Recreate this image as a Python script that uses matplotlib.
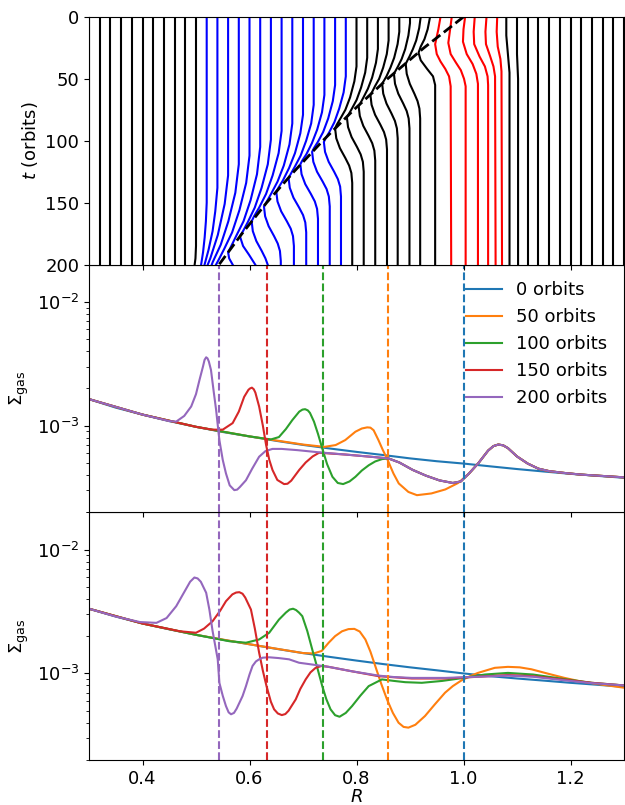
"""
Fluid-element tracks and gas surface density for an inward-moving pressure bump.
"""

import matplotlib
matplotlib.use('Agg')
import matplotlib.pyplot as plt

# ─────────────────────────────────────────────
# Data
# ─────────────────────────────────────────────

# bump position (dashed line) against time
bump_t = [0, 25, 50, 75, 100, 125, 150, 175, 200]
bump_R = [1.0, 0.926, 0.858, 0.795, 0.737, 0.683, 0.632, 0.586, 0.543]

snap_labels = ['0 orbits', '50 orbits', '100 orbits', '150 orbits', '200 orbits']
snap_R = [1.0, 0.858, 0.737, 0.632, 0.543]

# untouched fluid elements (straight lines)
straight_R = [0.30, 0.32, 0.34, 0.36, 0.38, 0.40, 0.42, 0.44, 0.46, 0.48,
              1.12, 1.14, 1.16, 1.18, 1.20, 1.22, 1.24, 1.26, 1.28, 1.30]

# displaced fluid elements: lists of (t, R)
black_paths = [
    [(0, .50), (185, .50), (195, .499), (200, .4975)],
    [(0, .80), (40, .80), (52, .796), (65, .788), (75, .7792), (82, .770), (87, .7632), (90, .760),
     (98, .7622), (106, .769), (114, .7792), (120, .7862), (126, .7904), (134, .792), (200, .792)],
    [(0, .82), (33, .82), (45, .8162), (57, .8086), (67, .8002), (74, .7915), (79, .785), (81, .782),
     (89, .7842), (97, .7908), (105, .8009), (111, .8078), (117, .8119), (125, .8135), (200, .8135)],
    [(0, .84), (26, .84), (37, .8364), (49, .8292), (58, .8213), (65, .813), (70, .8069), (72, .804),
     (80, .8062), (88, .8127), (96, .8226), (102, .8294), (108, .8334), (116, .835), (200, .835)],
    [(0, .86), (19, .86), (30, .8566), (41, .8498), (50, .8423), (56, .8345), (61, .8287), (63, .826),
     (71, .8282), (79, .8347), (87, .8446), (93, .8514), (99, .8554), (107, .857), (200, .857)],
    [(0, .88), (12, .88), (22, .8768), (33, .8704), (41, .8634), (48, .856), (52, .8506), (54, .848),
     (62, .850), (70, .8561), (78, .8654), (84, .8718), (90, .8755), (98, .877), (200, .877)],
    [(0, .90), (5, .90), (15, .897), (26, .891), (34, .8844), (40, .8775), (44, .8724), (46, .870),
     (54, .872), (62, .8781), (70, .8874), (76, .8938), (82, .8975), (90, .899), (200, .899)],
    [(0, .92), (9, .9172), (19, .9116), (26, .9054), (32, .899), (36, .8942), (38, .892),
     (46, .8939), (54, .8996), (62, .9082), (68, .9141), (74, .9176), (82, .919), (200, .919)],
    [(0, .9375), (10, .933), (18, .927), (24, .920), (29, .916), (35, .920), (42, .932),
     (48, .943), (55, .947), (200, .947)],
    [(0, 1.08), (15, 1.08), (30, 1.083), (45, 1.086), (200, 1.086)],
    [(0, 1.10), (30, 1.10), (50, 1.102), (200, 1.102)],
]

blue_paths = [
    [(0, .52), (150, .52), (165, .5185), (178, .5162), (190, .5132), (200, .5096)],
    [(0, .54), (138, .54), (157, .536), (173, .531), (188, .5235), (200, .516)],
    [(0, .56), (128, .56), (151, .5536), (176, .5408), (195, .5267), (200, .522)],
    [(0, .58), (119, .58), (142, .5735), (165, .5605), (184, .5462), (198, .5312), (200, .5295)],
    [(0, .60), (112, .60), (134, .5938), (156, .5812), (174, .5675), (187, .5531), (196, .5425),
     (200, .5375)],
    [(0, .62), (105, .62), (127, .614), (148, .602), (165, .5888), (177, .575), (186, .5648),
     (190, .560), (195, .562), (200, .5685)],
    [(0, .64), (99, .64), (119, .6342), (138, .6226), (154, .6098), (166, .5965), (174, .5866),
     (177, .582), (185, .588), (192, .599), (200, .6107)],
    [(0, .66), (92, .66), (110, .6544), (128, .6432), (143, .6309), (154, .618), (161, .6085),
     (165, .604), (173, .6062), (181, .6128), (189, .6229), (195, .6298), (200, .634)],
    [(0, .68), (86, .68), (103, .6747), (120, .6641), (133, .6524), (143, .6402), (150, .6312),
     (153, .627), (161, .6292), (169, .6358), (177, .6459), (183, .6528), (189, .6569),
     (197, .6585), (200, .6585)],
    [(0, .70), (79, .70), (94, .695), (110, .685), (122, .674), (132, .6625), (138, .654),
     (141, .650), (149, .6523), (157, .6592), (165, .6698), (171, .6771), (177, .6813),
     (185, .683), (200, .683)],
    [(0, .72), (71, .72), (86, .7153), (100, .7059), (112, .6956), (121, .6847), (127, .6768),
     (130, .673), (138, .6753), (146, .6822), (154, .6928), (160, .7001), (166, .7043),
     (174, .706), (200, .706)],
    [(0, .74), (63, .74), (77, .7355), (91, .7265), (102, .7166), (111, .7062), (116, .6986),
     (119, .695), (127, .6973), (135, .7042), (143, .7148), (149, .7221), (155, .7263),
     (163, .728), (200, .728)],
    [(0, .76), (55, .76), (68, .7557), (82, .7471), (93, .7376), (101, .7277), (106, .7204),
     (109, .717), (117, .7193), (125, .7262), (133, .7368), (139, .7441), (145, .7483),
     (153, .750), (200, .750)],
    [(0, .78), (48, .78), (61, .7759), (74, .7677), (85, .7587), (93, .7492), (98, .7423),
     (101, .739), (109, .7412), (117, .748), (125, .7582), (131, .7652), (137, .7694),
     (145, .771), (200, .771)],
]

red_paths = [
    [(0, .957), (10, .953), (22, .947), (30, .950), (36, .957), (42, .966), (48, .973),
     (56, .976), (200, .977)],
    [(0, .978), (10, .975), (21, .9716), (30, .976), (37, .986), (43, .995), (50, 1.001),
     (56, 1.004), (200, 1.004)],
    [(0, 1.003), (10, 1.0), (20, .999), (30, 1.006), (38, 1.017), (46, 1.024), (54, 1.027),
     (200, 1.027)],
    [(0, 1.021), (12, 1.019), (22, 1.020), (32, 1.030), (40, 1.040), (48, 1.045), (55, 1.046),
     (200, 1.046)],
    [(0, 1.043), (12, 1.041), (22, 1.042), (32, 1.050), (40, 1.056), (48, 1.059), (200, 1.060)],
    [(0, 1.063), (12, 1.062), (24, 1.064), (34, 1.069), (44, 1.071), (200, 1.072)],
]

# Sigma_gas, middle panel
mid_R = [
    [0.30, 0.35, 0.40, 0.45, 0.50, 0.55, 0.60, 0.65, 0.70, 0.75, 0.80, 0.85, 0.90, 0.95,
     1.00, 1.05, 1.10, 1.15, 1.20, 1.25, 1.30],
    [0.30, 0.40, 0.50, 0.60, 0.70, 0.74, 0.761, 0.779, 0.798, 0.81, 0.82, 0.826, 0.832, 0.841,
     0.849, 0.857, 0.869, 0.879, 0.897, 0.913, 0.94, 0.966, 0.99, 1.01, 1.028, 1.046, 1.056,
     1.065, 1.074, 1.083, 1.10, 1.12, 1.14, 1.16, 1.19, 1.22, 1.26, 1.30],
    [0.30, 0.40, 0.50, 0.60, 0.64, 0.655, 0.668, 0.68, 0.693, 0.699, 0.704, 0.709, 0.713,
     0.7205, 0.728, 0.736, 0.745, 0.755, 0.765, 0.775, 0.787, 0.798, 0.81, 0.823, 0.835, 0.848,
     0.86, 0.88, 0.905, 0.93, 0.955, 0.98, 0.995, 1.01, 1.028, 1.046, 1.056, 1.065, 1.074,
     1.083, 1.10, 1.12, 1.14, 1.16, 1.19, 1.22, 1.26, 1.30],
    [0.30, 0.40, 0.50, 0.53, 0.55, 0.5685, 0.58, 0.59, 0.598, 0.601, 0.6045, 0.608, 0.611,
     0.618, 0.625, 0.631, 0.637, 0.643, 0.652, 0.6646, 0.671, 0.678, 0.693, 0.705, 0.718, 0.73,
     0.78, 0.83, 0.86, 0.88, 0.905, 0.93, 0.955, 0.98, 0.995, 1.01, 1.028, 1.046, 1.056, 1.065,
     1.074, 1.083, 1.10, 1.12, 1.14, 1.16, 1.19, 1.22, 1.26, 1.30],
    [0.30, 0.40, 0.45, 0.463, 0.478, 0.491, 0.50, 0.5065, 0.513, 0.516, 0.519, 0.5215, 0.524,
     0.528, 0.533, 0.5376, 0.5437, 0.55, 0.556, 0.563, 0.5716, 0.577, 0.582, 0.5934, 0.605,
     0.618, 0.63, 0.643, 0.66, 0.69, 0.73, 0.78, 0.83, 0.86, 0.88, 0.905, 0.93, 0.955, 0.98,
     0.995, 1.01, 1.028, 1.046, 1.056, 1.065, 1.074, 1.083, 1.10, 1.12, 1.14, 1.16, 1.19, 1.22,
     1.26, 1.30],
]
mid_sigma = [
    [1.64e-3, 1.40e-3, 1.23e-3, 1.09e-3, 9.8e-4, 8.9e-4, 8.2e-4, 7.55e-4, 7.0e-4, 6.55e-4,
     6.15e-4, 5.8e-4, 5.45e-4, 5.17e-4, 4.95e-4, 4.7e-4, 4.47e-4, 4.27e-4, 4.09e-4, 3.94e-4,
     3.8e-4],
    [1.64e-3, 1.23e-3, 9.8e-4, 8.2e-4, 7.05e-4, 6.75e-4, 6.98e-4, 7.66e-4, 8.95e-4, 9.5e-4,
     9.7e-4, 9.65e-4, 9.2e-4, 7.66e-4, 6.4e-4, 5.44e-4, 4.12e-4, 3.42e-4, 2.92e-4, 2.75e-4,
     2.84e-4, 3.06e-4, 3.45e-4, 4.1e-4, 5.0e-4, 6.3e-4, 6.85e-4, 7.05e-4, 6.95e-4, 6.6e-4,
     5.65e-4, 4.95e-4, 4.5e-4, 4.3e-4, 4.15e-4, 4.03e-4, 3.93e-4, 3.83e-4],
    [1.64e-3, 1.23e-3, 9.8e-4, 8.2e-4, 7.75e-4, 8.1e-4, 9.4e-4, 1.11e-3, 1.3e-3, 1.35e-3,
     1.36e-3, 1.33e-3, 1.27e-3, 1.08e-3, 8.6e-4, 6.56e-4, 4.9e-4, 3.87e-4, 3.45e-4, 3.38e-4,
     3.55e-4, 3.87e-4, 4.35e-4, 4.8e-4, 5.15e-4, 5.38e-4, 5.44e-4, 5.05e-4, 4.4e-4, 3.95e-4,
     3.62e-4, 3.45e-4, 3.55e-4, 4.1e-4, 5.0e-4, 6.3e-4, 6.85e-4, 7.05e-4, 6.95e-4, 6.6e-4,
     5.65e-4, 4.95e-4, 4.5e-4, 4.3e-4, 4.15e-4, 4.03e-4, 3.93e-4, 3.83e-4],
    [1.64e-3, 1.23e-3, 9.8e-4, 9.3e-4, 9.3e-4, 1.05e-3, 1.3e-3, 1.71e-3, 1.95e-3, 2.0e-3,
     2.03e-3, 1.97e-3, 1.85e-3, 1.43e-3, 1.0e-3, 7.0e-4, 5.3e-4, 4.39e-4, 3.65e-4, 3.38e-4,
     3.4e-4, 3.6e-4, 4.4e-4, 5.05e-4, 5.65e-4, 6.05e-4, 5.85e-4, 5.6e-4, 5.44e-4, 5.05e-4,
     4.4e-4, 3.95e-4, 3.62e-4, 3.45e-4, 3.55e-4, 4.1e-4, 5.0e-4, 6.3e-4, 6.85e-4, 7.05e-4,
     6.95e-4, 6.6e-4, 5.65e-4, 4.95e-4, 4.5e-4, 4.3e-4, 4.15e-4, 4.03e-4, 3.93e-4, 3.83e-4],
    [1.64e-3, 1.23e-3, 1.09e-3, 1.08e-3, 1.2e-3, 1.43e-3, 1.8e-3, 2.34e-3, 3.0e-3, 3.4e-3,
     3.57e-3, 3.5e-3, 3.3e-3, 2.82e-3, 1.9e-3, 1.34e-3, 7.66e-4, 5.3e-4, 4.12e-4, 3.3e-4,
     3.02e-4, 3.05e-4, 3.2e-4, 3.63e-4, 4.5e-4, 5.62e-4, 6.25e-4, 6.5e-4, 6.5e-4, 6.35e-4,
     6.1e-4, 5.85e-4, 5.6e-4, 5.44e-4, 5.05e-4, 4.4e-4, 3.95e-4, 3.62e-4, 3.45e-4, 3.55e-4,
     4.1e-4, 5.0e-4, 6.3e-4, 6.85e-4, 7.05e-4, 6.95e-4, 6.6e-4, 5.65e-4, 4.95e-4, 4.5e-4,
     4.3e-4, 4.15e-4, 4.03e-4, 3.93e-4, 3.83e-4],
]

# Sigma_gas, bottom panel
bot_R = [
    [0.30, 0.35, 0.40, 0.45, 0.50, 0.55, 0.60, 0.65, 0.70, 0.75, 0.80, 0.85, 0.90, 0.95,
     1.00, 1.05, 1.10, 1.15, 1.20, 1.25, 1.30],
    [0.30, 0.40, 0.50, 0.60, 0.70, 0.72, 0.735, 0.748, 0.76, 0.773, 0.785, 0.796, 0.806,
     0.8166, 0.826, 0.835, 0.846, 0.857, 0.868, 0.8786, 0.888, 0.897, 0.91, 0.928, 0.946,
     0.9655, 0.98, 0.9965, 1.012, 1.027, 1.0585, 1.083, 1.105, 1.127, 1.16, 1.189, 1.22,
     1.26, 1.30],
    [0.30, 0.40, 0.50, 0.5623, 0.5934, 0.618, 0.6368, 0.655, 0.668, 0.675, 0.6814, 0.687,
     0.6925, 0.6987, 0.708, 0.7173, 0.727, 0.736, 0.7436, 0.7515, 0.76, 0.7683, 0.78, 0.7917,
     0.807, 0.8228, 0.8475, 0.87, 0.891, 0.922, 0.96, 1.0, 1.04, 1.083, 1.13, 1.189, 1.24,
     1.30],
    [0.30, 0.40, 0.47, 0.50, 0.515, 0.531, 0.545, 0.556, 0.568, 0.575, 0.581, 0.587, 0.592,
     0.6027, 0.61, 0.618, 0.625, 0.6318, 0.64, 0.646, 0.653, 0.6604, 0.667, 0.673, 0.6864,
     0.695, 0.705, 0.714, 0.7236, 0.735, 0.748, 0.7917, 0.8414, 0.9034, 0.9655, 1.027, 1.083,
     1.13, 1.189, 1.24, 1.30],
    [0.30, 0.35, 0.395, 0.426, 0.445, 0.463, 0.48, 0.489, 0.497, 0.503, 0.509, 0.519, 0.525,
     0.531, 0.5406, 0.5437, 0.55, 0.556, 0.561, 0.5655, 0.571, 0.576, 0.587, 0.5934, 0.6,
     0.6057, 0.612, 0.618, 0.6243, 0.6368, 0.655, 0.674, 0.6926, 0.7173, 0.748, 0.7917,
     0.8414, 0.87, 0.9034, 0.9655, 1.027, 1.083, 1.13, 1.189, 1.24, 1.30],
]
bot_sigma = [
    [3.33e-3, 2.88e-3, 2.53e-3, 2.27e-3, 2.05e-3, 1.87e-3, 1.72e-3, 1.58e-3, 1.46e-3, 1.36e-3,
     1.27e-3, 1.19e-3, 1.12e-3, 1.06e-3, 1.0e-3, 9.5e-4, 9.1e-4, 8.75e-4, 8.4e-4, 8.1e-4,
     7.8e-4],
    [3.33e-3, 2.53e-3, 2.05e-3, 1.72e-3, 1.46e-3, 1.45e-3, 1.52e-3, 1.77e-3, 2.0e-3, 2.19e-3,
     2.28e-3, 2.29e-3, 2.18e-3, 1.88e-3, 1.5e-3, 1.15e-3, 8.3e-4, 6.17e-4, 4.8e-4, 4.0e-4,
     3.7e-4, 3.65e-4, 3.85e-4, 4.53e-4, 5.6e-4, 6.99e-4, 7.9e-4, 8.8e-4, 9.5e-4, 1.01e-3,
     1.11e-3, 1.13e-3, 1.12e-3, 1.08e-3, 9.9e-4, 9.2e-4, 8.6e-4, 8.1e-4, 7.67e-4],
    [3.33e-3, 2.53e-3, 2.05e-3, 1.82e-3, 1.77e-3, 1.88e-3, 2.13e-3, 2.72e-3, 3.1e-3, 3.28e-3,
     3.33e-3, 3.25e-3, 3.1e-3, 2.9e-3, 2.2e-3, 1.56e-3, 1.1e-3, 7.9e-4, 6.2e-4, 5.13e-4,
     4.6e-4, 4.47e-4, 4.8e-4, 5.45e-4, 6.6e-4, 7.9e-4, 8.95e-4, 8.7e-4, 8.5e-4, 8.4e-4,
     8.7e-4, 9.2e-4, 9.8e-4, 1.01e-3, 9.8e-4, 9.0e-4, 8.4e-4, 8.0e-4],
    [3.33e-3, 2.53e-3, 2.19e-3, 2.13e-3, 2.3e-3, 2.64e-3, 3.2e-3, 3.83e-3, 4.35e-3, 4.5e-3,
     4.53e-3, 4.4e-3, 4.1e-3, 3.28e-3, 2.3e-3, 1.47e-3, 1.05e-3, 7.9e-4, 5.9e-4, 5.13e-4,
     4.75e-4, 4.61e-4, 4.7e-4, 5.0e-4, 6.17e-4, 7.5e-4, 8.95e-4, 1.02e-3, 1.11e-3, 1.15e-3,
     1.13e-3, 1.04e-3, 9.5e-4, 9.1e-4, 9.1e-4, 9.4e-4, 9.7e-4, 9.5e-4, 8.9e-4, 8.4e-4, 8.0e-4],
    [3.33e-3, 2.88e-3, 2.6e-3, 2.56e-3, 2.8e-3, 3.49e-3, 4.7e-3, 5.5e-3, 5.95e-3, 5.85e-3,
     5.5e-3, 4.48e-3, 3.28e-3, 2.2e-3, 1.3e-3, 8.4e-4, 6.6e-4, 5.45e-4, 4.85e-4, 4.68e-4,
     4.8e-4, 5.2e-4, 6.56e-4, 7.9e-4, 9.8e-4, 1.15e-3, 1.25e-3, 1.3e-3, 1.34e-3, 1.35e-3,
     1.33e-3, 1.3e-3, 1.22e-3, 1.18e-3, 1.13e-3, 1.04e-3, 9.6e-4, 9.35e-4, 9.2e-4, 9.2e-4,
     9.4e-4, 9.6e-4, 9.4e-4, 8.8e-4, 8.35e-4, 8.0e-4],
]

snap_colors = ['C0', 'C1', 'C2', 'C3', 'C4']
FS = 13


def draw_paths(ax, paths, color):
    for path in paths:
        ts = [p[0] for p in path]
        rs = [p[1] for p in path]
        ax.plot(rs, ts, color=color, lw=1.5)


def plot_tracks(ax):
    for r in straight_R:
        ax.plot([r, r], [0, 200], color='k', lw=1.5)
    draw_paths(ax, black_paths, 'k')
    draw_paths(ax, blue_paths, 'b')
    draw_paths(ax, red_paths, 'r')
    ax.plot(bump_R, bump_t, 'k--', lw=2)
    ax.set_ylim(200, 0)
    ax.set_yticks([0, 50, 100, 150, 200])
    ax.set_ylabel('$t$ (orbits)', fontsize=FS)


def plot_sigma(ax, R_lists, sigma_lists, legend=False):
    for i in range(len(R_lists)):
        ax.plot(R_lists[i], sigma_lists[i], color=snap_colors[i], lw=1.5, label=snap_labels[i])
    for i, r in enumerate(snap_R):
        ax.axvline(r, color=snap_colors[i], ls='--', lw=1.5)
    ax.set_yscale('log')
    ax.set_ylim(2e-4, 2e-2)
    ax.set_ylabel(r'$\Sigma_{\rm gas}$', fontsize=FS)
    if legend:
        ax.legend(loc='upper right', frameon=False, fontsize=FS)


def main():
    fig = plt.figure(figsize=(6.25, 8.05), dpi=100)
    left, width, h = 0.1424, 0.856, 0.3077
    ax_bot = fig.add_axes([left, 0.0559, width, h])
    ax_mid = fig.add_axes([left, 0.0559 + h, width, h], sharex=ax_bot)
    ax_top = fig.add_axes([left, 0.0559 + 2 * h, width, h], sharex=ax_bot)

    plot_tracks(ax_top)
    plot_sigma(ax_mid, mid_R, mid_sigma, legend=True)
    plot_sigma(ax_bot, bot_R, bot_sigma)

    ax_bot.set_xlim(0.3, 1.3)
    ax_bot.set_xlabel('$R$', fontsize=FS, labelpad=0)
    for ax in (ax_top, ax_mid, ax_bot):
        ax.tick_params(labelsize=FS)
    ax_top.tick_params(labelbottom=False)
    ax_mid.tick_params(labelbottom=False)

    fig.savefig('out.png', dpi=100)
    plt.close(fig)


if __name__ == '__main__':
    main()
